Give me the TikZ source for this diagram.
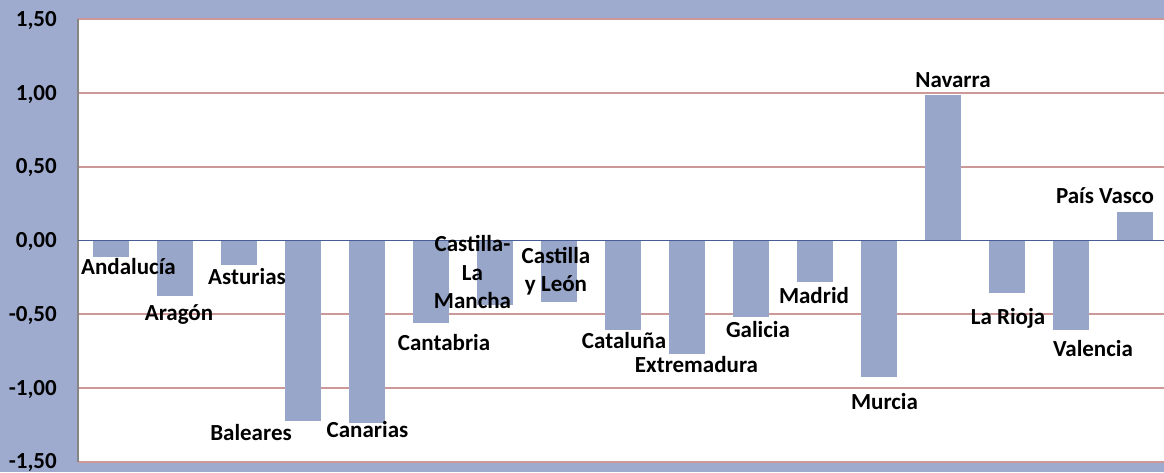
\documentclass[tikz,border=0pt]{standalone}
\usepackage{fontspec}
\setmainfont{Carlito}
\usetikzlibrary{calc,positioning}
\definecolor{chartbg}{RGB}{158,171,207}
\definecolor{barblue}{RGB}{152,166,201}
\definecolor{gridred}{RGB}{204,152,152}
\definecolor{zeroblue}{RGB}{72,92,150}
\definecolor{axisgray}{RGB}{134,134,134}
\tikzstyle{bar} = [fill=barblue, draw=none]
\tikzstyle{gridline} = [draw=gridred, line width=1.6pt]
\tikzstyle{lbl} = [font=\bfseries\fontsize{23}{28.5}\selectfont,
    inner sep=0pt, anchor=base]
\tikzstyle{mlbl} = [lbl, anchor=center, align=center]
\tikzstyle{ticklbl} = [lbl, anchor=base east]

\begin{document}
\begin{tikzpicture}[x=1pt,y=-1pt]
\fill[chartbg] (0,0) rectangle (1164,472);
\useasboundingbox (0,0) rectangle (1164,472);
\fill[white] (78,19) rectangle (1164,462);

% value axis: 0 at 240.5, one unit = 147.5
\foreach \v/\name/\txt in {1.5/p150/{1,50}, 1/p100/{1,00}, 0.5/p050/{0,50},
    0/z000/{0,00}, -0.5/m050/{-0,50}, -1/m100/{-1,00}, -1.5/m150/{-1,50}}
{
  \coordinate (grid_\name) at (78,{240.5-147.5*\v});
  \coordinate (grid_\name_right) at (1164,{240.5-147.5*\v});
  \node[ticklbl] (tick_\name) at ($(grid_\name)+(-21,7)$) {\txt};
}
\foreach \name in {p150,p100,p050,m050,m100,m150}
  \draw[gridline] (grid_\name) -- (grid_\name_right);

\draw[axisgray, line width=1.6pt] (grid_p150) -- (grid_m150);

\foreach \val [count=\i from 0] in {-0.11,-0.375,-0.165,-1.225,-1.235,-0.56,
    -0.44,-0.42,-0.61,-0.77,-0.52,-0.28,-0.925,0.985,-0.355,-0.607,0.193}
  \fill[bar] ({93+64*\i},240.5) rectangle ({129+64*\i},{240.5-147.5*\val});

\draw[zeroblue, line width=1.8pt] (grid_z000) -- (grid_z000_right);

\node[lbl] (andalucia) at (128.5,274) {Andalucía};
\node[lbl] (aragon) at (179,320) {Aragón};
\node[lbl] (asturias) at (247,284) {Asturias};
\node[lbl] (baleares) at (251,440) {Baleares};
\node[lbl] (canarias) at (367.5,437.5) {Canarias};
\node[lbl] (cantabria) at (444,350) {Cantabria};
\node[mlbl] (clamancha) at (472.5,272) {Castilla-\\La\\Mancha};
\node[mlbl] (cyleon) at (556,271) {Castilla\\y León};
\node[lbl] (cataluna) at (624,348) {Cataluña};
\node[lbl] (extremadura) at (696.5,372.5) {Extremadura};
\node[lbl] (galicia) at (758,337) {Galicia};
\node[lbl] (madrid) at (814,303) {Madrid};
\node[lbl] (murcia) at (884.5,409) {Murcia};
\node[lbl] (navarra) at (953,87) {Navarra};
\node[lbl] (larioja) at (1008,324) {La Rioja};
\node[lbl] (valencia) at (1093,356.5) {Valencia};
\node[lbl] (paisvasco) at (1105,203) {País Vasco};
\end{tikzpicture}
\end{document}
